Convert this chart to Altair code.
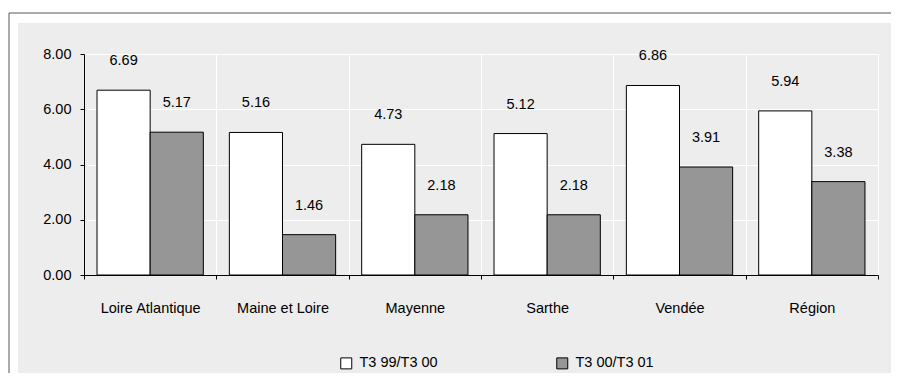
import altair as alt
import pandas as pd

categories = ["Loire Atlantique", "Maine et Loire", "Mayenne", "Sarthe", "Vendée", "Région"]
series_names = ["T3 99/T3 00", "T3 00/T3 01"]
values_99_00 = [6.69, 5.16, 4.73, 5.12, 6.86, 5.94]
values_00_01 = [5.17, 1.46, 2.18, 2.18, 3.91, 3.38]
y_ticks = [0, 2, 4, 6, 8]

rows = []
for c, v in zip(categories, values_99_00):
    rows.append({"cat": c, "serie": series_names[0], "val": v})
for c, v in zip(categories, values_00_01):
    rows.append({"cat": c, "serie": series_names[1], "val": v})
df = pd.DataFrame(rows)

FONT = "Liberation Sans"
FS = 14.5

x_enc = alt.X("cat:N", sort=categories, title=None,
              scale=alt.Scale(paddingInner=0, paddingOuter=0),
              axis=alt.Axis(labelAngle=0, tickBand="extent", grid=True,
                            gridColor="white", gridWidth=1,
                            domainColor="black", tickColor="black", tickSize=4,
                            labelPadding=22, labelFont=FONT, labelFontSize=FS,
                            labelColor="black"))
xoff_enc = alt.XOffset("serie:N", sort=series_names,
                       scale=alt.Scale(paddingOuter=0.245, paddingInner=0))
y_enc = alt.Y("val:Q", title=None,
              scale=alt.Scale(domain=[0, 8], nice=False),
              axis=alt.Axis(values=y_ticks, format=".2f", grid=True,
                            gridColor="white", gridWidth=1,
                            domainColor="black", tickColor="black", tickSize=4,
                            labelPadding=9, labelFont=FONT, labelFontSize=FS,
                            labelColor="black"))

base = alt.Chart(df)

bars = base.mark_bar(stroke="black", strokeWidth=1, opacity=1).encode(
    x=x_enc, xOffset=xoff_enc, y=y_enc,
    color=alt.Color("serie:N", sort=series_names,
                    scale=alt.Scale(domain=series_names, range=["white", "#969696"]),
                    legend=alt.Legend(title=None, orient="none", direction="horizontal",
                                      legendX=255, legendY=302,
                                      symbolType="square", symbolSize=121,
                                      symbolStrokeColor="black", symbolStrokeWidth=1,
                                      symbolOpacity=1,
                                      labelFont=FONT, labelFontSize=FS, labelColor="black",
                                      labelOffset=6, columnPadding=116, padding=0))
)

labels = base.mark_text(dy=-29, align="center", baseline="middle",
                        font=FONT, fontSize=FS, color="black").encode(
    x=x_enc, xOffset=xoff_enc, y=y_enc,
    text=alt.Text("val:Q", format=".2f")
)

one = alt.Data(values=[{}])
white_top = alt.Chart(one).mark_rect(color="white").encode(
    x=alt.value(-76), x2=alt.value(815), y=alt.value(-46), y2=alt.value(-31))
white_left = alt.Chart(one).mark_rect(color="white").encode(
    x=alt.value(-76), x2=alt.value(-66), y=alt.value(-46), y2=alt.value(327))
line_top = alt.Chart(one).mark_rule(color="#595959", strokeWidth=1).encode(
    x=alt.value(-75), x2=alt.value(815), y=alt.value(-41))
line_left = alt.Chart(one).mark_rule(color="#595959", strokeWidth=1).encode(
    x=alt.value(-75), y=alt.value(-41), y2=alt.value(327))

chart = alt.layer(white_top, white_left, line_top, line_left, bars, labels).properties(
    width=794, height=221,
    autosize=alt.AutoSizeParams(type="none"),
    padding={"left": 76, "top": 46, "right": 13, "bottom": 98},
    background="#ededed",
).configure_view(stroke=None, fill=None)

chart.save("out.html", embed_options={"renderer": "svg", "actions": False})
